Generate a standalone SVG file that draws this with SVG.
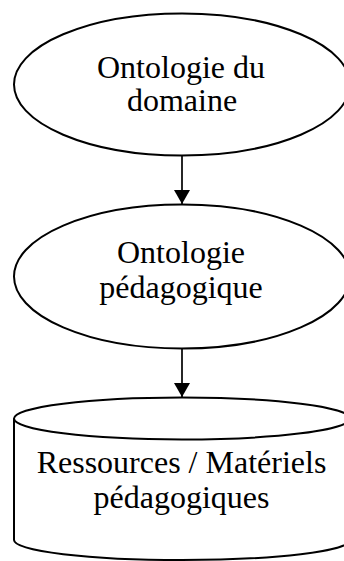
<svg xmlns="http://www.w3.org/2000/svg" width="344" height="561" viewBox="0 0 344 561">
<style>
.shape{fill:#fff;stroke:#000;stroke-width:2}
.lbl{font-family:"Liberation Serif","Times New Roman",serif;font-size:32px;fill:#000;text-anchor:middle}
.conn{stroke:#000;stroke-width:1.7;fill:none}
</style>
<defs>
<marker id="arr" viewBox="0 0 14 16" refX="14" refY="8" markerWidth="14" markerHeight="16" markerUnits="userSpaceOnUse" orient="auto">
<path d="M0,0 L14,8 L0,16 Z" fill="#000"/>
</marker>
</defs>
<rect width="344" height="561" fill="#fff"/>
<g id="connectors">
<line class="conn" x1="182" y1="155.5" x2="182" y2="204" marker-end="url(#arr)"/>
<line class="conn" x1="182" y1="348.5" x2="182" y2="397" marker-end="url(#arr)"/>
</g>
<g id="node-domaine">
<ellipse class="shape" cx="182" cy="84.5" rx="168" ry="71"/>
<text class="lbl" x="181" y="78">Ontologie du</text>
<text class="lbl" x="182" y="111">domaine</text>
</g>
<g id="node-pedagogique">
<ellipse class="shape" cx="182" cy="276.5" rx="168" ry="72"/>
<text class="lbl" x="181" y="263">Ontologie</text>
<text class="lbl" x="181" y="298">pédagogique</text>
</g>
<g id="node-ressources">
<path class="shape" d="M14,418.5 L14,540 A168,20 0 0 0 350,540 L350,418.5"/>
<ellipse class="shape" cx="182" cy="418.5" rx="168" ry="21"/>
<text class="lbl" x="181.5" y="473">Ressources / Matériels</text>
<text class="lbl" x="181.5" y="508">pédagogiques</text>
</g>
</svg>
